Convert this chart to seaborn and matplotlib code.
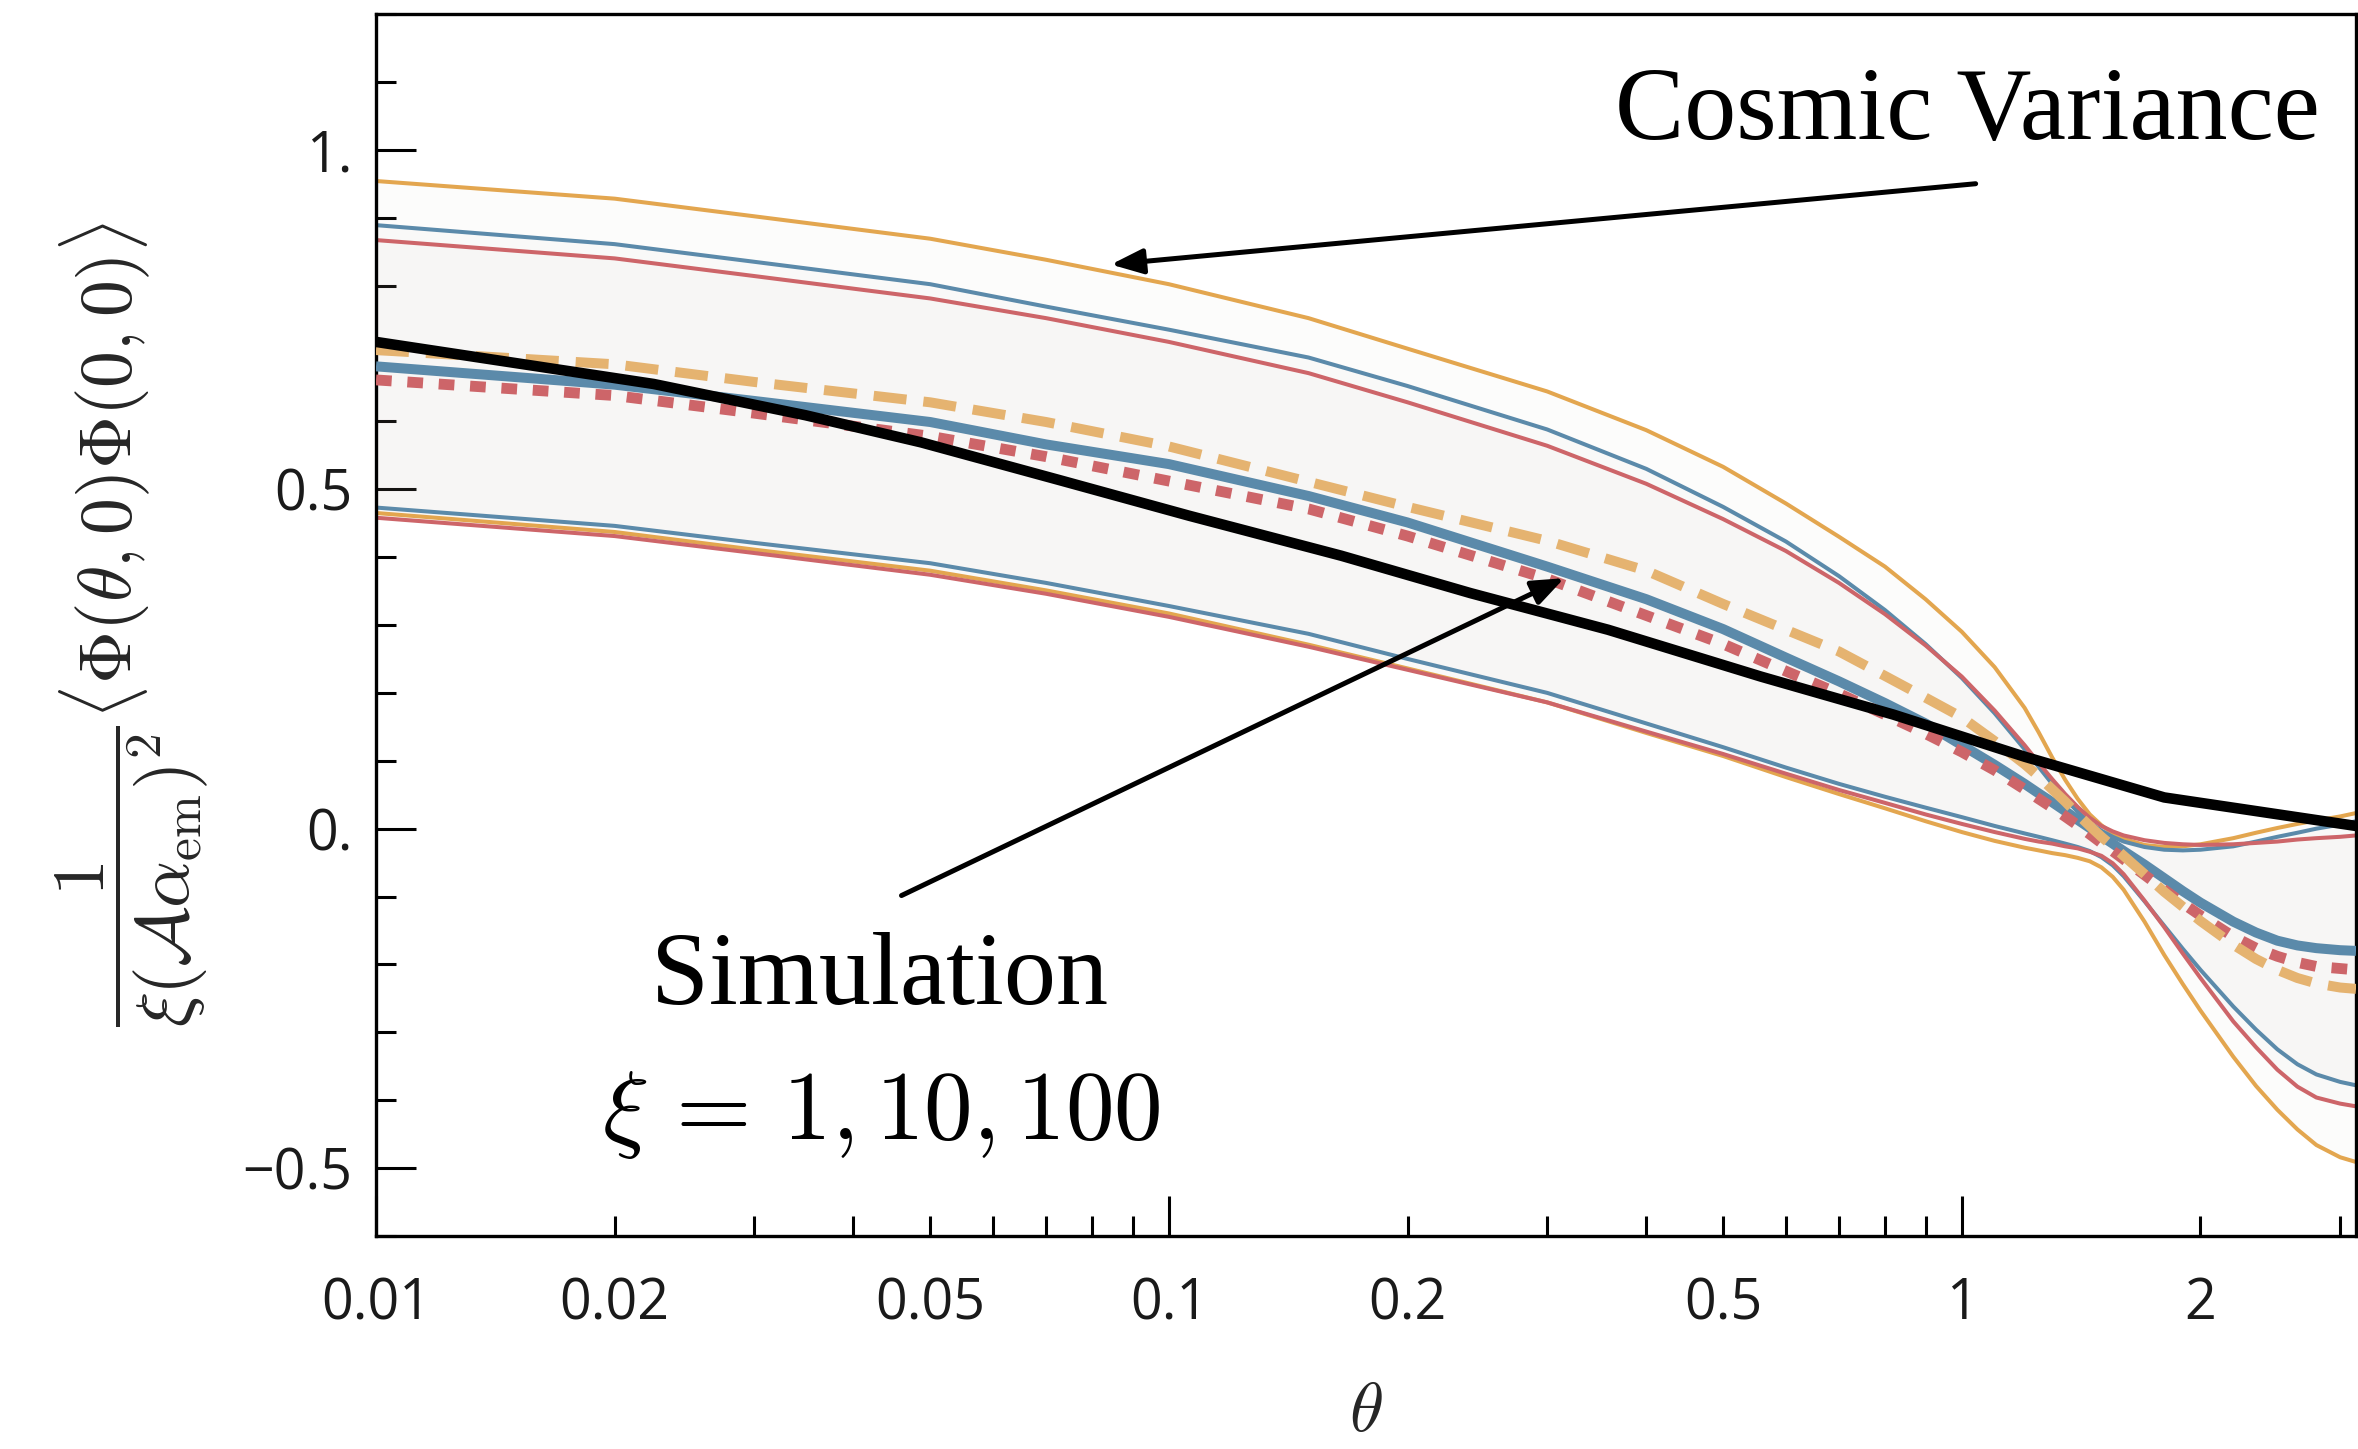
import numpy as np
import matplotlib
matplotlib.use("Agg")
import matplotlib.pyplot as plt
import seaborn as sns
from matplotlib.ticker import FixedLocator, FixedFormatter, FuncFormatter

# ---- angular separation grid (radians) ----
theta = [0.01, 0.02, 0.03, 0.05, 0.07, 0.1, 0.15, 0.2, 0.3, 0.4, 0.5, 0.6, 0.7,
         0.8, 0.9, 1.0, 1.1, 1.2, 1.25, 1.3, 1.35, 1.4, 1.45, 1.5, 1.55, 1.6, 1.7,
         1.8, 1.9, 2.0, 2.2, 2.35, 2.5, 2.65, 2.8, 3.0, np.pi]

# ---- theory means for the three couplings ----
mean_orange = [0.705, 0.684, 0.658, 0.628, 0.599, 0.563, 0.511, 0.474, 0.424, 0.380,
               0.331, 0.293, 0.261, 0.225, 0.193, 0.164, 0.129, 0.095, 0.077, 0.058,
               0.040, 0.021, 0.004, -0.012, -0.026, -0.040, -0.067, -0.093, -0.115,
               -0.136, -0.171, -0.192, -0.208, -0.220, -0.228, -0.234, -0.236]
mean_blue = [0.681, 0.654, 0.630, 0.599, 0.566, 0.537, 0.490, 0.451, 0.386, 0.338,
             0.294, 0.252, 0.217, 0.185, 0.155, 0.123, 0.094, 0.066, 0.052, 0.039,
             0.026, 0.013, 0.001, -0.011, -0.022, -0.033, -0.053, -0.073, -0.092,
             -0.109, -0.137, -0.153, -0.165, -0.172, -0.176, -0.179, -0.180]
mean_red = [0.661, 0.638, 0.612, 0.578, 0.548, 0.512, 0.471, 0.431, 0.368, 0.314,
            0.272, 0.232, 0.199, 0.168, 0.140, 0.113, 0.086, 0.058, 0.044, 0.031,
            0.018, 0.005, -0.008, -0.021, -0.033, -0.045, -0.068, -0.090, -0.110,
            -0.128, -0.159, -0.176, -0.188, -0.197, -0.203, -0.206, -0.208]

# ---- cosmic-variance envelopes ----
upper_orange = [0.954, 0.928, 0.902, 0.869, 0.838, 0.802, 0.752, 0.707, 0.644, 0.587,
                0.533, 0.479, 0.430, 0.386, 0.338, 0.290, 0.238, 0.178, 0.142, 0.105,
                0.072, 0.044, 0.021, 0.005, -0.007, -0.015, -0.024, -0.027, -0.026,
                -0.023, -0.014, -0.006, 0.001, 0.007, 0.012, 0.018, 0.023]
upper_blue = [0.889, 0.861, 0.835, 0.802, 0.769, 0.735, 0.694, 0.652, 0.588, 0.530,
              0.474, 0.423, 0.372, 0.322, 0.272, 0.222, 0.170, 0.117, 0.091, 0.066,
              0.044, 0.025, 0.009, -0.003, -0.012, -0.019, -0.027, -0.031, -0.032,
              -0.031, -0.026, -0.019, -0.012, -0.006, 0.000, 0.006, 0.011]
upper_red = [0.867, 0.840, 0.814, 0.781, 0.752, 0.717, 0.671, 0.628, 0.564, 0.508,
             0.456, 0.409, 0.362, 0.316, 0.270, 0.224, 0.174, 0.123, 0.097, 0.073,
             0.051, 0.032, 0.016, 0.004, -0.004, -0.010, -0.017, -0.021, -0.023,
             -0.024, -0.023, -0.021, -0.019, -0.016, -0.014, -0.012, -0.010]
lower_orange = [0.465, 0.437, 0.411, 0.380, 0.351, 0.317, 0.271, 0.236, 0.186, 0.141,
                0.107, 0.076, 0.051, 0.030, 0.011, -0.005, -0.018, -0.028, -0.032, -0.036,
                -0.039, -0.043, -0.048, -0.057, -0.071, -0.090, -0.137, -0.186, -0.229,
                -0.268, -0.336, -0.379, -0.414, -0.443, -0.466, -0.484, -0.491]
lower_blue = [0.473, 0.446, 0.421, 0.391, 0.362, 0.328, 0.287, 0.250, 0.200, 0.155,
              0.120, 0.090, 0.066, 0.047, 0.031, 0.017, 0.004, -0.007, -0.012, -0.017,
              -0.022, -0.027, -0.033, -0.042, -0.054, -0.070, -0.107, -0.143, -0.177,
              -0.208, -0.262, -0.296, -0.325, -0.347, -0.362, -0.373, -0.378]
lower_red = [0.458, 0.431, 0.406, 0.374, 0.346, 0.312, 0.268, 0.234, 0.186, 0.143,
             0.110, 0.081, 0.057, 0.038, 0.021, 0.007, -0.005, -0.015, -0.019, -0.022,
             -0.026, -0.029, -0.034, -0.040, -0.051, -0.067, -0.106, -0.145, -0.184,
             -0.220, -0.284, -0.322, -0.355, -0.380, -0.396, -0.405, -0.409]

# ---- simulation result ----
theta_sim = [0.01, 0.0224, 0.0348, 0.0487, 0.073, 0.106, 0.165, 0.24, 0.358, 0.558,
             0.82, 1.2, 1.8, np.pi]
corr_sim = [0.717, 0.655, 0.609, 0.569, 0.513, 0.461, 0.402, 0.347, 0.293, 0.224,
            0.168, 0.106, 0.046, 0.004]

# ---- axis ticks ----
x_major = [0.01, 0.1, 1]
x_major_labels = ["0.01", "0.1", "1"]
x_minor_labels = {0.02: "0.02", 0.05: "0.05", 0.2: "0.2", 0.5: "0.5", 2.0: "2"}
y_major = [-0.5, 0.0, 0.5, 1.0]
y_major_labels = ["\u22120.5", "0.", "0.5", "1."]

ORANGE = "#E3A64F"
ORANGE_DASH = "#E5B370"
BLUE = "#5B8AAA"
RED = "#CD6569"
BAND = "#C8BEB0"

sns.set_theme(style="ticks")
plt.rcParams["font.family"] = ["Open Sans", "DejaVu Sans"]
plt.rcParams["mathtext.fontset"] = "cm"
plt.rcParams["axes.linewidth"] = 1.2

W, H, DPI = 2358, 1449, 200
fig = plt.figure(figsize=(W / DPI, H / DPI), dpi=DPI)
fig.patch.set_facecolor("white")
ax = fig.add_axes([376 / W, 1 - 1236 / H, (2356 - 376) / W, (1236 - 14) / H])
ax.set_facecolor("white")
ax.set_xscale("log")


def line(x, y, **kw):
    sns.lineplot(x=x, y=y, ax=ax, estimator=None, sort=False, legend=False, **kw)


# variance bands
for lo, hi in [(lower_orange, upper_orange), (lower_blue, upper_blue), (lower_red, upper_red)]:
    ax.fill_between(theta, lo, hi, color=BAND, alpha=0.04, lw=0, zorder=1)

# envelope edges
for y, c in [(upper_orange, ORANGE), (lower_orange, ORANGE),
             (upper_blue, BLUE), (lower_blue, BLUE),
             (upper_red, RED), (lower_red, RED)]:
    line(theta, y, color=c, lw=1.45, zorder=2)

# means
line(theta, mean_blue, color=BLUE, lw=3.6, zorder=3, solid_capstyle="butt")
line(theta, mean_red, color=RED, lw=3.9, zorder=4, linestyle=(0, (1.45, 1.45)))
line(theta, mean_orange, color=ORANGE_DASH, lw=3.6, zorder=5, linestyle=(0, (3.3, 1.7)))

# simulation
line(theta_sim, corr_sim, color="black", lw=3.8, zorder=6)

ax.set_xlim(0.01, np.pi)
ax.set_ylim(-0.6, 1.2)

ax.xaxis.set_major_locator(FixedLocator(x_major))
ax.xaxis.set_major_formatter(FixedFormatter(x_major_labels))
x_minor = [k * 10.0 ** e for e in (-2, -1, 0) for k in range(2, 10) if k * 10.0 ** e < np.pi]
ax.xaxis.set_minor_locator(FixedLocator(x_minor))
ax.xaxis.set_minor_formatter(FuncFormatter(
    lambda v, pos: x_minor_labels.get(round(v, 3), "")))

ax.yaxis.set_major_locator(FixedLocator(y_major))
ax.yaxis.set_major_formatter(FixedFormatter(y_major_labels))
y_minor = [round(v, 1) for v in np.arange(-0.6, 1.25, 0.1) if round(v, 1) not in y_major]
ax.yaxis.set_minor_locator(FixedLocator(y_minor))

ax.tick_params(which="both", direction="in", top=False, right=False,
               color="black", labelcolor="#1a1a1a", labelsize=20, width=1.1)
ax.tick_params(which="major", length=14.4)
ax.tick_params(which="minor", length=7.2)
ax.tick_params(axis="x", which="both", pad=14.5)
ax.tick_params(axis="y", which="both", pad=8.5)

for s in ax.spines.values():
    s.set_color("black")
    s.set_linewidth(1.2)

ax.set_xlabel(r"$\theta$", fontsize=25)
ax.xaxis.set_label_coords(0.5, -0.116)
ax.set_ylabel(r"$\dfrac{1}{\xi(\mathcal{A}\alpha_{\mathrm{em}})^2}"
              r"\langle\Phi(\theta,0)\Phi(0,0)\rangle$", fontsize=26.5)
ax.yaxis.set_label_coords(-0.084, 0.5)

serif = ["Liberation Serif", "DejaVu Serif"]
ax.text(2.832, 1.016, "Cosmic Variance", ha="right", va="baseline",
        fontsize=37.4, family=serif, color="black", zorder=8)
ax.text(0.0431, -0.259, "Simulation", ha="center", va="baseline",
        fontsize=37.5, family=serif, color="black", zorder=8)
ax.text(0.0434, -0.457, r"$\xi\,=\,1, 10, 100$", ha="center", va="baseline",
        fontsize=35, color="black", zorder=8)

arrow = dict(arrowstyle="-|>,head_length=0.97,head_width=0.38", color="black",
             lw=1.8, mutation_scale=10, shrinkA=0, shrinkB=0)
ax.annotate("", xy=(0.0845, 0.831), xytext=(1.041, 0.950), arrowprops=arrow, zorder=7)
ax.annotate("", xy=(0.3152, 0.369), xytext=(0.046, -0.0985), arrowprops=arrow, zorder=7)

fig.savefig("out.png", dpi=DPI, facecolor="white")
